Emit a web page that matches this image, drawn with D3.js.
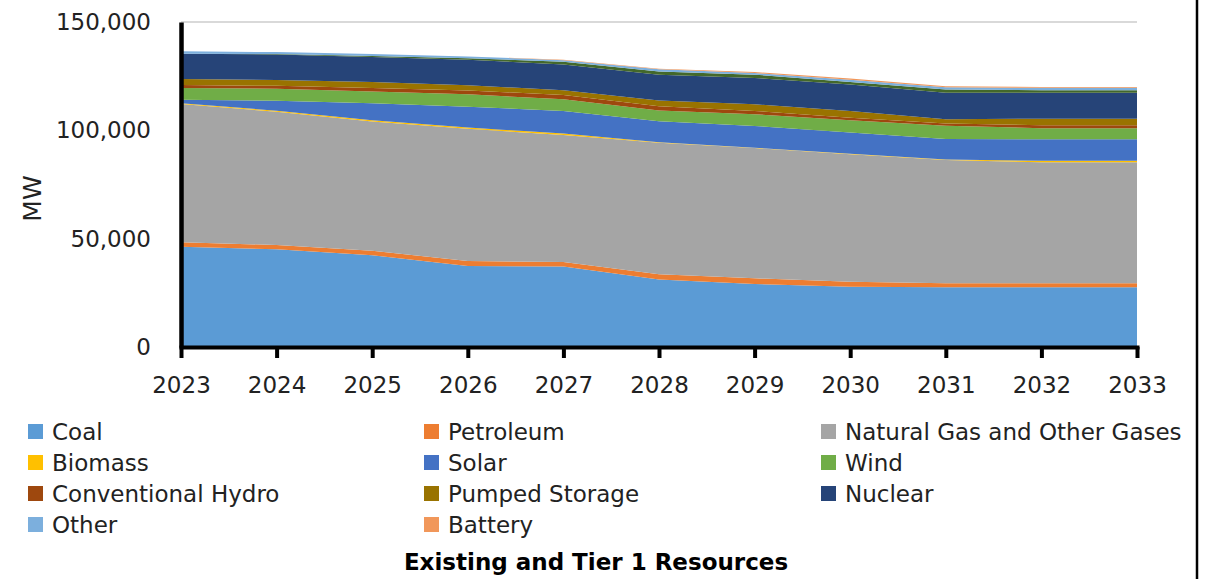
<!DOCTYPE html>
<html>
<head>
<meta charset="utf-8">
<script src="https://cdn.jsdelivr.net/npm/d3@7"></script>
<style>
  html, body { margin: 0; padding: 0; background: #fff; }
  svg { display: block; font-family: "DejaVu Sans", sans-serif; }
</style>
</head>
<body>
<svg id="chart" width="1212" height="579"></svg>
<script>
// Installed capacity by resource type, MW
const years = [2023, 2024, 2025, 2026, 2027, 2028, 2029, 2030, 2031, 2032, 2033];

const coal      = [46300, 45100, 42300, 37400, 37100, 31200, 29100, 27800, 27600, 27600, 27600];
const petroleum = [2000, 2000, 2100, 2300, 2150, 2400, 2600, 2300, 1850, 1850, 1850];
const naturalGas = [63800, 61500, 59700, 61000, 58600, 60700, 60100, 58900, 56900, 55800, 55800];
const biomass   = [400, 450, 550, 600, 700, 250, 150, 150, 150, 750, 750];
const solar     = [1600, 4600, 7900, 9600, 10400, 9700, 10100, 9800, 9500, 9900, 9900];
const wind      = [5400, 5600, 5400, 5700, 5400, 4900, 5400, 5700, 6100, 5100, 5100];
const convHydro = [1400, 1300, 1600, 1800, 2000, 2000, 1500, 1200, 1050, 1400, 1400];
const pumpedStorage = [2750, 2700, 2750, 2400, 2150, 2600, 3050, 3050, 2000, 3000, 3000];
const nuclear   = [11700, 11800, 11600, 11800, 11900, 11900, 12200, 12250, 12200, 11900, 11900];
// thin unlabeled layer that the legend leaves out
const unlisted  = [0, 150, 450, 700, 1200, 1500, 1500, 1200, 1500, 1250, 1250];
const other     = [1100, 900, 900, 800, 800, 1050, 750, 1000, 1050, 1050, 1050];
const battery   = [0, 0, 0, 0, 150, 200, 450, 550, 450, 450, 450];

const yTicks = [0, 50000, 100000, 150000];

// Stack order, bottom to top
const seriesNames = ["Coal", "Petroleum", "Natural Gas and Other Gases", "Biomass", "Solar", "Wind",
  "Conventional Hydro", "Pumped Storage", "Nuclear", "Unlisted", "Other", "Battery"];
const seriesValues = [coal, petroleum, naturalGas, biomass, solar, wind,
  convHydro, pumpedStorage, nuclear, unlisted, other, battery];
const colors = ["#5B9BD5", "#ED7D31", "#A5A5A5", "#FFC000", "#4472C4", "#70AD47",
  "#9E480E", "#997300", "#264478", "#43682B", "#7CAFDD", "#F1975A"];
const legendOrder = ["Coal", "Petroleum", "Natural Gas and Other Gases",
  "Biomass", "Solar", "Wind",
  "Conventional Hydro", "Pumped Storage", "Nuclear",
  "Other", "Battery"];

const rows = years.map((yr, i) => {
  const r = { year: yr };
  seriesNames.forEach((n, k) => { r[n] = seriesValues[k][i]; });
  return r;
});

const svg = d3.select("#chart");
svg.append("rect").attr("width", 1212).attr("height", 579).attr("fill", "#fff");

const x = d3.scaleLinear().domain([2023, 2033]).range([181, 1137]);
const y = d3.scaleLinear().domain([0, 150000]).range([347, 22]);
const color = d3.scaleOrdinal().domain(seriesNames).range(colors);

// gridlines behind the areas
svg.append("g").selectAll("line").data(yTicks.slice(1)).join("line")
  .attr("x1", x(2023)).attr("x2", x(2033))
  .attr("y1", d => y(d)).attr("y2", d => y(d))
  .attr("stroke", "#D9D9D9").attr("stroke-width", 2);

const stack = d3.stack().keys(seriesNames);
const layers = stack(rows);

const area = d3.area()
  .x(d => x(d.data.year))
  .y0(d => y(d[0]))
  .y1(d => y(d[1]))
  .curve(d3.curveLinear);

svg.append("g").selectAll("path").data(layers).join("path")
  .attr("d", area)
  .attr("fill", d => color(d.key));

// y axis
const yAxis = svg.append("g")
  .attr("transform", `translate(${x(2023)},0)`)
  .call(d3.axisLeft(y).tickValues(yTicks).tickFormat(d3.format(",")).tickSize(0).tickPadding(30));
yAxis.select(".domain").attr("stroke", "#000").attr("stroke-width", 4.5);
yAxis.selectAll("text").attr("font-size", 23).attr("fill", "#222")
  .attr("font-family", "DejaVu Sans, sans-serif");

// x axis
const xAxis = svg.append("g")
  .attr("transform", `translate(0,${y(0)})`)
  .call(d3.axisBottom(x).tickValues(years).tickFormat(d3.format("d")).tickSize(11).tickSizeOuter(0));
xAxis.select(".domain").attr("stroke", "#000").attr("stroke-width", 4)
  .attr("stroke-linecap", "square");
xAxis.selectAll(".tick line").attr("stroke", "#000").attr("stroke-width", 4);
xAxis.selectAll("text").attr("font-size", 23).attr("fill", "#222")
  .attr("y", 30).attr("dy", "0.71em")
  .attr("font-family", "DejaVu Sans, sans-serif");

// y axis title
svg.append("text")
  .attr("transform", `translate(41,${(y(0) + y(150000)) / 2 + 14}) rotate(-90)`)
  .attr("text-anchor", "middle")
  .attr("font-size", 25).attr("fill", "#222")
  .text("MW");

// legend
const colX = [28, 424, 821];
const rowY = [432, 463, 494, 525];
const legend = svg.append("g");
legendOrder.forEach((name, i) => {
  const cx = colX[i % 3], cy = rowY[Math.floor(i / 3)];
  const g = legend.append("g").attr("transform", `translate(${cx},${cy})`);
  g.append("rect").attr("x", 0).attr("y", -8).attr("width", 15).attr("height", 15)
    .attr("fill", color(name));
  g.append("text").attr("x", 24).attr("y", 0).attr("dy", "0.36em")
    .attr("font-size", 23).attr("fill", "#222").text(name);
});

// chart title
svg.append("text")
  .attr("x", 596).attr("y", 562).attr("dy", "0.36em")
  .attr("text-anchor", "middle")
  .attr("font-size", 23).attr("font-weight", "bold").attr("fill", "#000")
  .text("Existing and Tier 1 Resources");

// frame edge on the right
svg.append("line").attr("x1", 1197).attr("x2", 1197).attr("y1", 0).attr("y2", 579)
  .attr("stroke", "#000").attr("stroke-width", 2.5);
</script>
</body>
</html>
